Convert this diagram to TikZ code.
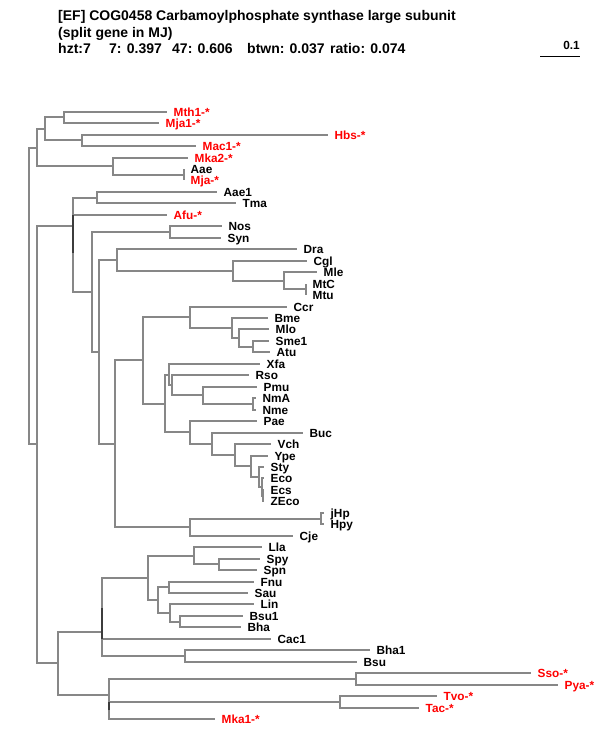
\documentclass[tikz,border=0pt]{standalone}
\usepackage{fontspec}
\setmainfont{Liberation Sans}
\newcommand\leaffont{\fontsize{11.8}{13}\selectfont\bfseries}
\newcommand\hdrfont{\fontsize{14}{16}\selectfont\bfseries}
\definecolor{brgray}{RGB}{135,135,135}
\definecolor{brdark}{RGB}{60,60,60}
\definecolor{leafred}{RGB}{255,0,0}
\tikzset{
  br/.style={draw=brgray, line width=2pt},
  brover/.style={draw=brdark, line width=2pt},
  leaf/.style={anchor=west, inner xsep=6.5pt, inner ysep=0pt, text height=8.45pt, text depth=0pt, font=\leaffont, text=black},
  rleaf/.style={leaf, text=leafred},
  hdr/.style={anchor=west, inner sep=0pt, text height=10pt, text depth=0pt, font=\hdrfont},
}
\begin{document}
\begin{tikzpicture}[x=1pt, y=-1pt]
\fill[white] (0,0) rectangle (600,750);
\useasboundingbox (0,0) rectangle (600,750);
% header
\node[hdr] (t1) at (58,15.5) {[EF] COG0458 Carbamoylphosphate synthase large subunit};
\node[hdr] (t2) at (58,32) {(split gene in MJ)};
\node[hdr] (t3a) at (58,48.5) {hzt:7};
\node[hdr] (t3b) at (109,48.5) {7: 0.397};
\node[hdr] (t3c) at (172,48.5) {47: 0.606};
\node[hdr] (t3d) at (247,48.5) {btwn: 0.037};
\node[hdr] (t3e) at (330,48.5) {ratio: 0.074};
% scale bar
\node[leaf, anchor=east, inner xsep=0pt] (sc) at (580,45) {0.1};
\coordinate (s1) at (540,56.5);
\coordinate (s2) at (580,56.5);
\draw[black, line width=1pt] (s1) -- (s2);
% leaves
\node[rleaf] (mth1) at (167,112) {Mth1-*};
\node[rleaf] (mja1) at (159,123) {Mja1-*};
\node[rleaf] (hbs) at (328,135) {Hbs-*};
\node[rleaf] (mac1) at (196,146) {Mac1-*};
\node[rleaf] (mka2) at (188,158) {Mka2-*};
\node[leaf] (aae) at (184,169) {Aae};
\node[rleaf] (mja) at (184,180) {Mja-*};
\node[leaf] (aae1) at (217,192) {Aae1};
\node[leaf] (tma) at (236,203) {Tma};
\node[rleaf] (afu) at (167,215) {Afu-*};
\node[leaf] (nos) at (222,226) {Nos};
\node[leaf] (syn) at (221,238) {Syn};
\node[leaf] (dra) at (297,249) {Dra};
\node[leaf] (cgl) at (307,261) {Cgl};
\node[leaf] (mle) at (317,272) {Mle};
\node[leaf] (mtc) at (306,284) {MtC};
\node[leaf] (mtu) at (306,295) {Mtu};
\node[leaf] (ccr) at (287,307) {Ccr};
\node[leaf] (bme) at (268,318) {Bme};
\node[leaf] (mlo) at (269,329) {Mlo};
\node[leaf] (sme1) at (269,341) {Sme1};
\node[leaf] (atu) at (270,352) {Atu};
\node[leaf] (xfa) at (260,364) {Xfa};
\node[leaf] (rso) at (249,375) {Rso};
\node[leaf] (pmu) at (257,387) {Pmu};
\node[leaf] (nma) at (256,398) {NmA};
\node[leaf] (nme) at (256,410) {Nme};
\node[leaf] (pae) at (257,421) {Pae};
\node[leaf] (buc) at (303,433) {Buc};
\node[leaf] (vch) at (271,444) {Vch};
\node[leaf] (ype) at (268,456) {Ype};
\node[leaf] (sty) at (264,467) {Sty};
\node[leaf] (eco) at (264,478) {Eco};
\node[leaf] (ecs) at (264,490) {Ecs};
\node[leaf] (zeco) at (264,501) {ZEco};
\node[leaf] (jhp) at (324,513) {jHp};
\node[leaf] (hpy) at (324,524) {Hpy};
\node[leaf] (cje) at (293,536) {Cje};
\node[leaf] (lla) at (262,547) {Lla};
\node[leaf] (spy) at (260,559) {Spy};
\node[leaf] (spn) at (257,570) {Spn};
\node[leaf] (fnu) at (254,582) {Fnu};
\node[leaf] (sau) at (248,593) {Sau};
\node[leaf] (lin) at (254,604) {Lin};
\node[leaf] (bsu1) at (243,616) {Bsu1};
\node[leaf] (bha) at (241,627) {Bha};
\node[leaf] (cac1) at (271,639) {Cac1};
\node[leaf] (bha1) at (370,650) {Bha1};
\node[leaf] (bsu) at (357,662) {Bsu};
\node[rleaf] (sso) at (531,673) {Sso-*};
\node[rleaf] (pya) at (558,685) {Pya-*};
\node[rleaf] (tvo) at (437,696) {Tvo-*};
\node[rleaf] (tac) at (419,708) {Tac-*};
\node[rleaf] (mka1) at (215,719) {Mka1-*};
% internal nodes
\coordinate (nmm) at (64,117);
\coordinate (nhm) at (82,140);
\coordinate (na) at (45,129);
\coordinate (nam) at (184,175);
\coordinate (nk2) at (113,166);
\coordinate (ntop) at (37,148);
\coordinate (nat) at (97,198);
\coordinate (nns) at (170,232);
\coordinate (nmt) at (306,289);
\coordinate (nj) at (284,281);
\coordinate (ncg) at (233,271);
\coordinate (ndra) at (117,260);
\coordinate (ni) at (253,347);
\coordinate (nh) at (239,338);
\coordinate (ng) at (232,328);
\coordinate (nccr) at (190,317);
\coordinate (nnm) at (253,404);
\coordinate (na3) at (203,395);
\coordinate (na2) at (172,385);
\coordinate (na1) at (169,375);
\coordinate (ne3) at (263,496);
\coordinate (ne2) at (262,487);
\coordinate (ne1) at (259,477);
\coordinate (nype) at (251,466);
\coordinate (nvch) at (235,455);
\coordinate (nbuc) at (212,444);
\coordinate (nc) at (190,432);
\coordinate (nb) at (165,404);
\coordinate (ncb) at (143,360);
\coordinate (nhp) at (321,519);
\coordinate (ncje) at (190,527);
\coordinate (nmid) at (115,444);
\coordinate (ns) at (99,352);
\coordinate (nr) at (92,292);
\coordinate (nq) at (73,253);
\coordinate (np) at (73,226);
\coordinate (nsp) at (219,564);
\coordinate (nl1) at (194,556);
\coordinate (nf1) at (169,587);
\coordinate (nbb) at (180,622);
\coordinate (nf2) at (170,613);
\coordinate (nl2) at (158,600);
\coordinate (nlg) at (148,578);
\coordinate (nu) at (102,608);
\coordinate (nbh) at (185,656);
\coordinate (nv) at (102,632);
\coordinate (nsp2) at (356,679);
\coordinate (ntt) at (340,702);
\coordinate (nw1) at (109,710);
\coordinate (nw) at (109,695);
\coordinate (n57) at (58,663);
\coordinate (nlow) at (37,444);
\coordinate (root) at (29,296);
% branches
\draw[br] (nmm) |- (mth1.west);
\draw[br] (nmm) |- (mja1.west);
\draw[br] (nhm) |- (hbs.west);
\draw[br] (nhm) |- (mac1.west);
\draw[br] (na) |- (nmm);
\draw[br] (na) |- (nhm);
\draw[br] (nam) |- (aae.west);
\draw[br] (nam) |- (mja.west);
\draw[br] (nk2) |- (mka2.west);
\draw[br] (nk2) |- (nam);
\draw[br] (ntop) |- (na);
\draw[br] (ntop) |- (nk2);
\draw[br] (nat) |- (aae1.west);
\draw[br] (nat) |- (tma.west);
\draw[br] (nns) |- (nos.west);
\draw[br] (nns) |- (syn.west);
\draw[br] (nmt) |- (mtc.west);
\draw[br] (nmt) |- (mtu.west);
\draw[br] (nj) |- (mle.west);
\draw[br] (nj) |- (nmt);
\draw[br] (ncg) |- (cgl.west);
\draw[br] (ncg) |- (nj);
\draw[br] (ndra) |- (dra.west);
\draw[br] (ndra) |- (ncg);
\draw[br] (ni) |- (sme1.west);
\draw[br] (ni) |- (atu.west);
\draw[br] (nh) |- (mlo.west);
\draw[br] (nh) |- (ni);
\draw[br] (ng) |- (bme.west);
\draw[br] (ng) |- (nh);
\draw[br] (nccr) |- (ccr.west);
\draw[br] (nccr) |- (ng);
\draw[br] (nnm) |- (nma.west);
\draw[br] (nnm) |- (nme.west);
\draw[br] (na3) |- (pmu.west);
\draw[br] (na3) |- (nnm);
\draw[br] (na2) |- (rso.west);
\draw[br] (na2) |- (na3);
\draw[br] (na1) |- (xfa.west);
\draw[br] (na1) |- (na2);
\draw[br] (ne3) |- (ecs.west);
\draw[br] (ne3) |- (zeco.west);
\draw[br] (ne2) |- (eco.west);
\draw[br] (ne2) |- (ne3);
\draw[br] (ne1) |- (sty.west);
\draw[br] (ne1) |- (ne2);
\draw[br] (nype) |- (ype.west);
\draw[br] (nype) |- (ne1);
\draw[br] (nvch) |- (vch.west);
\draw[br] (nvch) |- (nype);
\draw[br] (nbuc) |- (buc.west);
\draw[br] (nbuc) |- (nvch);
\draw[br] (nc) |- (pae.west);
\draw[br] (nc) |- (nbuc);
\draw[br] (nb) |- (na1);
\draw[br] (nb) |- (nc);
\draw[br] (ncb) |- (nccr);
\draw[br] (ncb) |- (nb);
\draw[br] (nhp) |- (jhp.west);
\draw[br] (nhp) |- (hpy.west);
\draw[br] (ncje) |- (nhp);
\draw[br] (ncje) |- (cje.west);
\draw[br] (nmid) |- (ncb);
\draw[br] (nmid) |- (ncje);
\draw[br] (ns) |- (ndra);
\draw[br] (ns) |- (nmid);
\draw[br] (nr) |- (nns);
\draw[br] (nr) |- (ns);
\draw[br] (nq) |- (afu.west);
\draw[br] (nq) |- (nr);
\draw[br] (np) |- (nat);
\draw[br] (np) |- (nq);
\draw[br] (nsp) |- (spy.west);
\draw[br] (nsp) |- (spn.west);
\draw[br] (nl1) |- (lla.west);
\draw[br] (nl1) |- (nsp);
\draw[br] (nf1) |- (fnu.west);
\draw[br] (nf1) |- (sau.west);
\draw[br] (nbb) |- (bsu1.west);
\draw[br] (nbb) |- (bha.west);
\draw[br] (nf2) |- (lin.west);
\draw[br] (nf2) |- (nbb);
\draw[br] (nl2) |- (nf1);
\draw[br] (nl2) |- (nf2);
\draw[br] (nlg) |- (nl1);
\draw[br] (nlg) |- (nl2);
\draw[br] (nu) |- (nlg);
\draw[br] (nu) |- (cac1.west);
\draw[br] (nbh) |- (bha1.west);
\draw[br] (nbh) |- (bsu.west);
\draw[br] (nv) |- (nu);
\draw[br] (nv) |- (nbh);
\draw[br] (nsp2) |- (sso.west);
\draw[br] (nsp2) |- (pya.west);
\draw[br] (ntt) |- (tvo.west);
\draw[br] (ntt) |- (tac.west);
\draw[br] (nw1) |- (ntt);
\draw[br] (nw1) |- (mka1.west);
\draw[br] (nw) |- (nsp2);
\draw[br] (nw) |- (nw1);
\draw[br] (n57) |- (nv);
\draw[br] (n57) |- (nw);
\draw[br] (nlow) |- (np);
\draw[br] (nlow) |- (n57);
\draw[br] (root) |- (ntop);
\draw[br] (root) |- (nlow);
% overlapping (zero-length) segments drawn darker
\draw[brover] (nq) -- (nq |- afu.west);
\draw[brover] (nu) -- (nu |- cac1.west);
\draw[brover] (nw1) -- (nw1 |- ntt);
\end{tikzpicture}
\end{document}
